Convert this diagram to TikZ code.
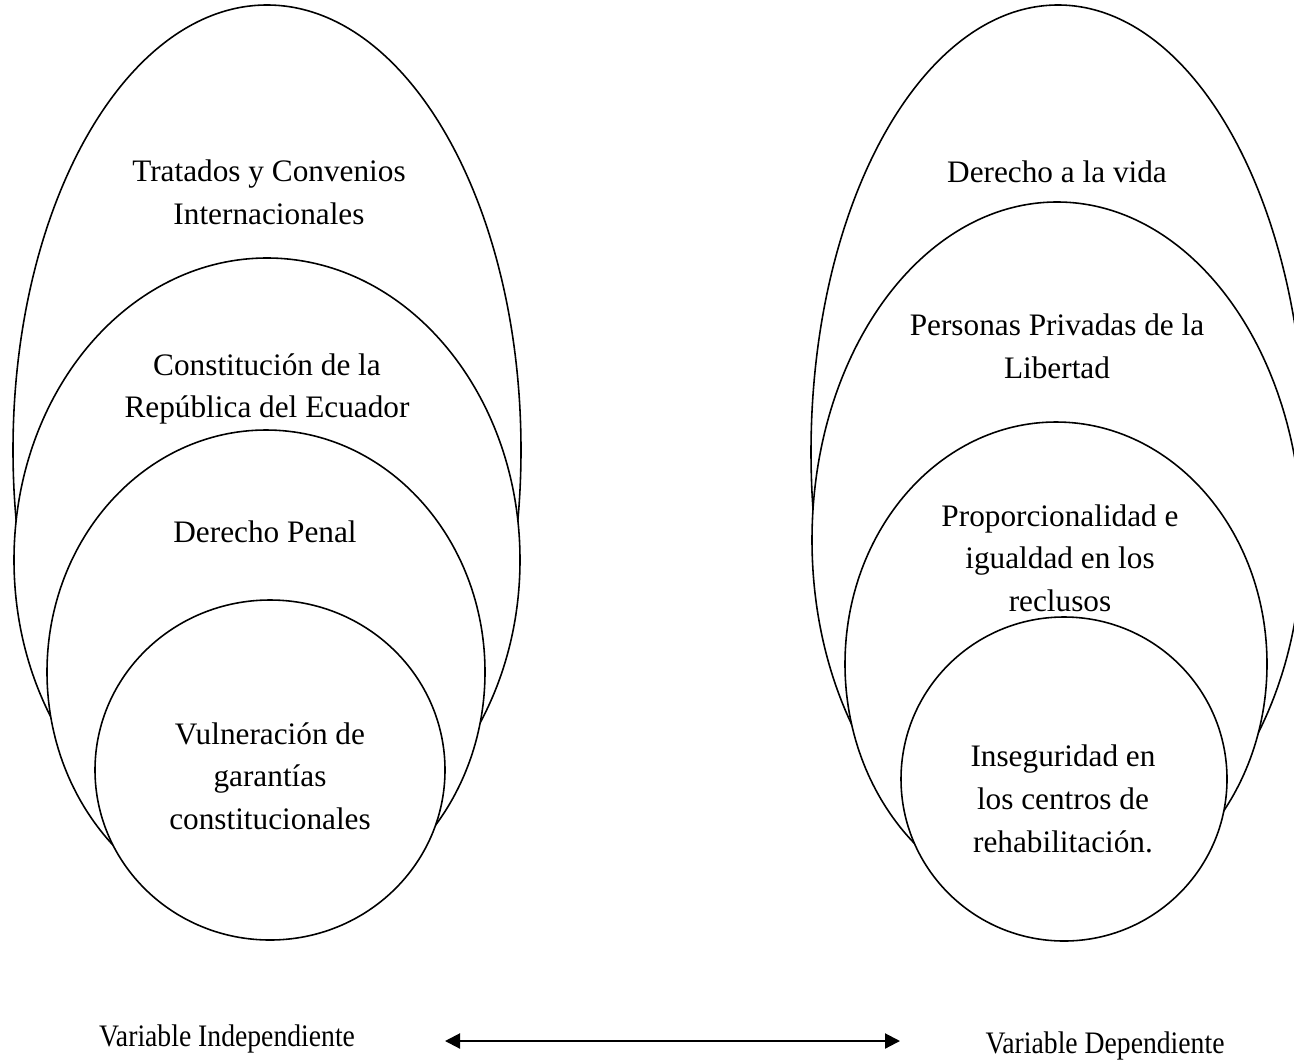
\documentclass[tikz,border=0pt]{standalone}
\usepackage{fontspec}
\setmainfont{Liberation Serif}
\usetikzlibrary{arrows.meta}

\tikzset{
	ring/.style={draw,fill=white,line width=0.9pt},
	lbl/.style={align=center,font=\fontsize{17.8}{24.3}\selectfont},
	varlbl/.style={anchor=base,xscale=0.885,font=\fontsize{17.8}{20}\selectfont}
}

\begin{document}
\begin{tikzpicture}[x=0.02cm,y=-0.02cm]
	\useasboundingbox (0,0) rectangle (1294,1061);
	\clip (0,0) rectangle (1294,1061);
	% variable independiente
	\path[ring] (267,450) ellipse [x radius=254,y radius=445];
	\path[ring] (267,560) ellipse [x radius=253,y radius=302];
	\path[ring] (266,672) ellipse [x radius=219,y radius=242];
	\path[ring] (270,770) ellipse [x radius=175,y radius=170];
	\node[lbl] (tratados) at (269,192) {Tratados y Convenios\\Internacionales};
	\node[lbl] (constitucion) at (267,389) {Constitución de la\\República del Ecuador};
	\node[lbl] (penal) at (265,532) {Derecho Penal};
	\node[lbl] (vulneracion) at (270,776) {Vulneración de\\garantías\\constitucionales};
	% variable dependiente
	\path[ring] (1058,452) ellipse [x radius=247,y radius=447];
	\path[ring] (1057,540) ellipse [x radius=245,y radius=338];
	\path[ring] (1056,664) ellipse [x radius=211,y radius=242];
	\path[ring] (1064,779) ellipse [x radius=163,y radius=162];
	\node[lbl] (vida) at (1057,172) {Derecho a la vida};
	\node[lbl] (personas) at (1057,346) {Personas Privadas de la\\Libertad};
	\node[lbl] (proporcion) at (1060,558) {Proporcionalidad e\\igualdad en los\\reclusos};
	\node[lbl] (inseguridad) at (1063,799) {Inseguridad en\\los centros de\\rehabilitación.};
	% relacion
	\node[varlbl] (vi) at (227,1046) {Variable Independiente};
	\node[varlbl] (vd) at (1105,1053) {Variable Dependiente};
	\coordinate (al) at (445,1041);
	\coordinate (ar) at (900,1041);
	\draw[line width=1.2pt,{Triangle[length=0.3cm,width=0.3cm]}-{Triangle[length=0.3cm,width=0.3cm]}] (al) -- (ar);
\end{tikzpicture}
\end{document}
